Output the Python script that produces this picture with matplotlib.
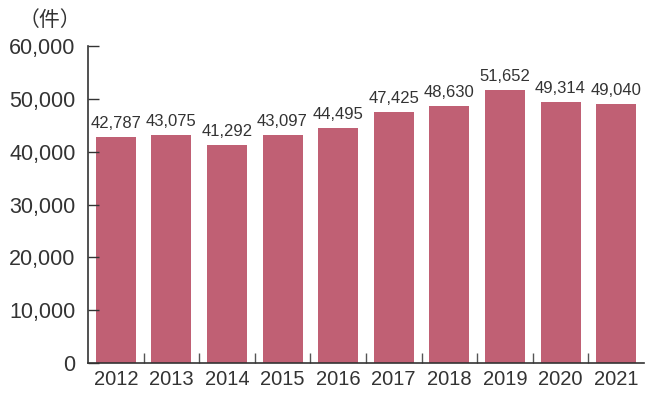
import matplotlib.pyplot as plt

years = ["2012", "2013", "2014", "2015", "2016", "2017", "2018", "2019", "2020", "2021"]
counts = [42787, 43075, 41292, 43097, 44495, 47425, 48630, 51652, 49314, 49040]
yticks = [0, 10000, 20000, 30000, 40000, 50000, 60000]

plt.rcParams['font.family'] = ['Liberation Sans', 'Noto Sans CJK JP', 'DejaVu Sans']

fig = plt.figure(figsize=(6.65, 3.99), dpi=100)
ax = fig.add_axes([0.1323, 0.0902, 0.836, 0.7945])

x = range(len(years))
ax.bar(x, counts, width=0.72, color="#c06074")
for i, v in zip(x, counts):
    ax.text(i, v + 1200, f"{v:,}", ha="center", va="bottom", fontsize=12, color="#333333")

ax.set_xlim(-0.5, len(years) - 0.5)
ax.set_ylim(0, 60000)
ax.set_yticks(yticks)
ax.set_yticklabels([f"{t:,}" for t in yticks], fontsize=15.5, color="#333333")
ax.set_xticks(list(x))
ax.set_xticklabels(years, fontsize=14.5, color="#333333")
ax.tick_params(axis="x", length=0, pad=5)
ax.tick_params(axis="y", direction="in", length=8, width=1, color="#333333", pad=9)
# small separators between categories
ax.set_xticks([i + 0.5 for i in range(len(years) - 1)], minor=True)
ax.tick_params(axis="x", which="minor", direction="in", length=7, width=1, color="#555555")

for s in ["top", "right"]:
    ax.spines[s].set_visible(False)
for s in ["left", "bottom"]:
    ax.spines[s].set_color("#333333")
    ax.spines[s].set_linewidth(1.2)

fig.text(0.028, 0.935, "（件）", fontsize=15, color="#333333", family=['Noto Sans CJK JP'])

fig.savefig("out.png", dpi=100)
